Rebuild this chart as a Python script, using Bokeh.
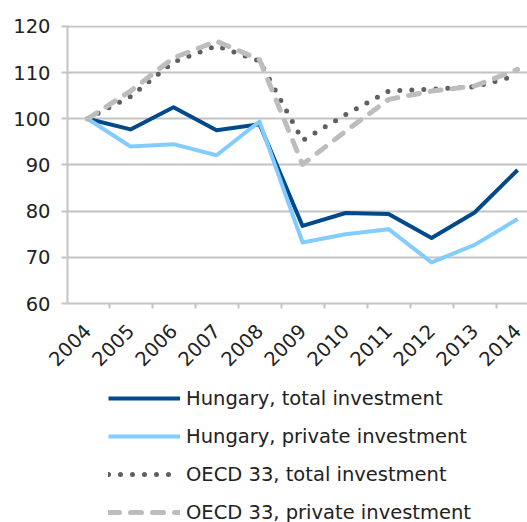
import math
from bokeh.plotting import figure
from bokeh.layouts import column
from bokeh.models import Range1d, FixedTicker, Legend, LegendItem
from bokeh.embed import file_html
from bokeh.resources import INLINE

years = ["2004", "2005", "2006", "2007", "2008", "2009", "2010", "2011", "2012", "2013", "2014"]
hungary_total = [100, 97.7, 102.5, 97.5, 98.8, 76.8, 79.6, 79.4, 74.2, 79.7, 88.9]
hungary_private = [100, 94.0, 94.5, 92.1, 99.4, 73.2, 75.0, 76.1, 68.9, 72.7, 78.3]
oecd_total = [100, 104.8, 112.3, 115.8, 112.5, 95.3, 100.9, 106.0, 106.4, 106.9, 109.4]
oecd_private = [100, 106.0, 113.2, 116.8, 112.8, 90.1, 97.3, 104.2, 106.0, 107.1, 110.7]
series_names = ["Hungary, total investment", "Hungary, private investment",
                "OECD 33, total investment", "OECD 33, private investment"]
y_ticks = [60, 70, 80, 90, 100, 110, 120]

FONT = "DejaVu Sans"
xs = list(range(len(years)))
series = [hungary_total, hungary_private, oecd_total, oecd_private]

styles = [
    dict(line_color="#004a8b", line_width=4, line_join="round"),
    dict(line_color="#82ccff", line_width=4, line_join="round"),
    dict(line_color="#5f5f5f", line_width=5, line_dash="0 12", line_cap="round", line_join="round"),
    dict(line_color="#bdbdbd", line_width=5, line_dash="11 11", line_cap="round", line_join="round"),
]

p = figure(width=527, height=375, output_backend="svg", toolbar_location=None,
           x_range=Range1d(-0.465, 10.23), y_range=Range1d(60, 120.2),
           min_border_left=67, min_border_right=0, min_border_top=25, min_border_bottom=72)
p.outline_line_color = None

grid_col = "#c4c4c4"
p.xgrid.visible = False
p.ygrid.grid_line_color = grid_col
p.ygrid.grid_line_width = 2
p.ygrid.ticker = FixedTicker(ticks=y_ticks)

ya = p.yaxis[0]
ya.ticker = FixedTicker(ticks=y_ticks)
ya.axis_line_color = grid_col
ya.axis_line_width = 2
ya.major_tick_line_color = grid_col
ya.major_tick_line_width = 2
ya.major_tick_out = 6
ya.major_tick_in = 0
ya.minor_tick_line_color = None
ya.major_label_standoff = 11
ya.major_label_text_font = FONT
ya.major_label_text_font_size = "19.5px"
ya.major_label_text_color = "#222222"

xa = p.xaxis[0]
xa.ticker = FixedTicker(ticks=xs, minor_ticks=[i - 0.5 for i in xs])
xa.major_label_overrides = {i: y for i, y in enumerate(years)}
xa.major_label_orientation = math.pi / 4
xa.axis_line_color = grid_col
xa.axis_line_width = 2
xa.major_tick_line_color = None
xa.major_tick_out = 0
xa.major_tick_in = 0
xa.minor_tick_line_color = grid_col
xa.minor_tick_line_width = 2
xa.minor_tick_out = 5
xa.minor_tick_in = 0
xa.major_label_standoff = 19
xa.major_label_text_font = FONT
xa.major_label_text_font_size = "19.5px"
xa.major_label_text_color = "#222222"

for vals, st in zip(series, styles):
    p.line(xs, vals, **st)

# legend panel below the chart (its frame is aligned with the chart's frame)
lg = figure(width=527, height=147, output_backend="svg", toolbar_location=None,
            x_range=Range1d(-0.465, 10.23), y_range=Range1d(60, 120.2),
            min_border_left=0, min_border_right=0, min_border_top=0, min_border_bottom=0)
lg.outline_line_color = None
lg.axis.visible = False
lg.grid.visible = False
items = []
for name, vals, st in zip(series_names, series, styles):
    r = lg.line(xs, vals, visible=False, **st)
    items.append(LegendItem(label=name, renderers=[r]))
legend = Legend(items=items, location=(41, -1.5))
legend.glyph_width = 72
legend.glyph_height = 20
legend.label_height = 20
legend.spacing = 15
legend.label_standoff = 6
legend.padding = 0
legend.margin = 0
legend.border_line_color = None
legend.background_fill_alpha = 0
legend.inactive_fill_alpha = 0
legend.label_text_font = FONT
legend.label_text_font_size = "19.5px"
legend.label_text_color = "#222222"
lg.add_layout(legend, "center")

layout = column(p, lg, spacing=0)
open("out.html", "w").write(file_html(layout, INLINE))
